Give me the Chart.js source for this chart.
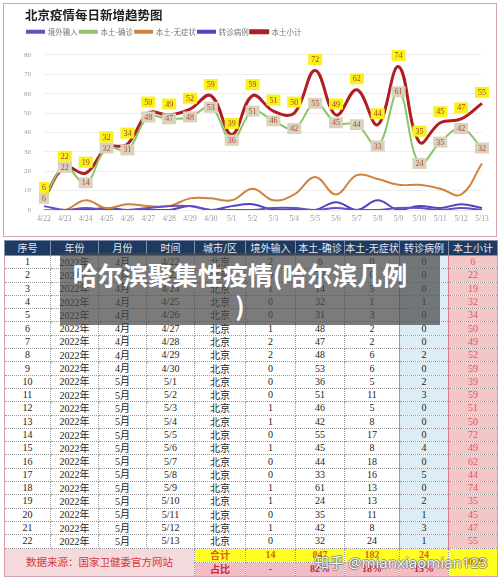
<!DOCTYPE html>
<html>
<head>
<meta charset="utf-8">
<script src="https://cdn.jsdelivr.net/npm/chart.js@4.4.1/dist/chart.umd.min.js"></script>
<style>
body { margin:0; width:500px; height:579px; background:#fff; position:relative; overflow:hidden; font-family:"Noto Sans CJK SC", sans-serif; }
#frame { position:absolute; left:3px; top:3px; border:1.5px solid #d9a3a6; box-sizing:border-box; width:494px; height:234px; }
#wrap { position:absolute; left:3px; top:3px; width:494px; height:232px; }
table { position:absolute; left:4px; top:240px; width:493px; border-collapse:collapse; table-layout:fixed; border:1.5px solid #d9a0a8; }
tr { height:13.3px; }
tr.hd { height:15px; }
tr.sum, tr.pct { height:14px; }
td, th { padding:0; text-align:center; vertical-align:middle; font-family:"Liberation Serif", "Noto Sans CJK SC", serif; font-size:10px; color:#222; border:1px dotted #9a9a9a; line-height:10px; white-space:nowrap; overflow:hidden; }
th { background:#1f3a60; color:#e4e8f2; font-weight:normal; font-family:"Noto Sans CJK SC", sans-serif; font-size:10px; border:1px solid #8090a8; }
.cn { font-family:"Noto Sans CJK SC", sans-serif; line-height:10px; }
.blue { background:#dcedf6; border-left:1px solid #e27a93; border-right:1px solid #e27a93; }
.red { background:#f3c6c8; color:#e05a5a; }
.src { background:#f4dadd; color:#d33a3a; font-family:"Noto Sans CJK SC", sans-serif; font-size:10.5px; }
.sum td { background:#ffff22; color:#e0601a; font-weight:bold; }
.pct td { background:#f3bcc4; color:#c8283c; font-weight:bold; }
#caption { position:absolute; left:60px; top:253px; width:380px; height:72px; padding-right:20px; padding-top:6px; box-sizing:border-box; background:rgba(72,72,72,0.72); color:#fff; font-weight:bold; font-size:25px; line-height:31px; text-align:center; white-space:nowrap; }
#mark { position:absolute; left:314px; top:551px; font-size:15px; color:rgba(255,255,255,0.92); white-space:nowrap; text-shadow:-1px 0 rgba(90,90,90,0.55), 1px 0 rgba(90,90,90,0.55), 0 -1px rgba(90,90,90,0.55), 0 1px rgba(90,90,90,0.55); font-family:"Noto Sans", "Noto Sans CJK SC", sans-serif; }
</style>
</head>
<body>
<div id="frame"></div>
<div id="wrap"><canvas id="myChart" width="494" height="232"></canvas></div>
<table id="tbl"></table>
<div id="caption">哈尔滨聚集性疫情(哈尔滨几例<br>)</div>
<div id="mark">知乎 @mianxiaomian123</div>
<script>
const dates = ['4/22','4/23','4/24','4/25','4/26','4/27','4/28','4/29','4/30','5/1','5/2','5/3','5/4','5/5','5/6','5/7','5/8','5/9','5/10','5/11','5/12','5/13'];
const jingwai = [2,0,1,0,0,1,2,2,0,0,0,1,1,0,1,0,0,1,1,0,1,0];
const quezhen = [6,22,14,32,31,48,47,48,53,36,51,46,42,55,45,44,33,61,24,35,42,32];
const wuzheng = [0,0,5,1,3,2,2,6,6,5,11,5,8,17,8,18,16,13,13,11,8,24];
const zhuanzhen = [0,0,0,1,0,0,0,2,0,2,3,0,0,0,4,0,5,0,2,1,3,1];
const xiaoji = [6,22,19,32,34,50,49,52,59,39,59,51,50,72,49,62,44,74,35,45,47,55];
const yTicks = [0,10,20,30,40,50,60,70,80];
const headers = ['序号','年份','月份','时间','城市/区','境外输入','本土-确诊','本土-无症状','转诊病例','本土小计'];
const colW = [46,48,48,48,51,50,49,55,49,49];

// table
const tbl = document.getElementById('tbl');
let html = '<colgroup>' + colW.map(w => '<col style="width:' + w + 'px">').join('') + '</colgroup>';
html += '<tr class="hd">' + headers.map(h => '<th>' + h + '</th>').join('') + '</tr>';
dates.forEach((d, i) => {
  html += '<tr><td>' + (i + 1) + '</td><td>2022<span class="cn">年</span></td><td>' + d.split('/')[0] + '<span class="cn">月</span></td><td>' + d +
    '</td><td class="cn">北京</td><td>' + jingwai[i] + '</td><td>' + quezhen[i] + '</td><td>' + wuzheng[i] +
    '</td><td class="blue">' + zhuanzhen[i] + '</td><td class="red">' + xiaoji[i] + '</td></tr>';
});
const sum = a => a.reduce((s, v) => s + v, 0);
const total = sum(quezhen) + sum(wuzheng);
html += '<tr class="sum"><td colspan="4" rowspan="2" class="src" style="background:#f4dadd;color:#d33a3a;font-weight:normal">数据来源：国家卫健委官方网站</td><td class="cn">合计</td><td>' + sum(jingwai) + '</td><td>' + sum(quezhen) + '</td><td>' + sum(wuzheng) + '</td><td>' + sum(zhuanzhen) + '</td><td rowspan="2" style="background:#ffff22;color:#e0601a">' + total + '</td></tr>';
html += '<tr class="pct"><td class="cn">占比</td><td>-</td><td>' + Math.round(sum(quezhen) / total * 100) + '%</td><td>' + Math.round(sum(wuzheng) / total * 100) + '%</td><td>' + Math.round(sum(zhuanzhen) / sum(wuzheng) * 100) + '%</td></tr>';
tbl.innerHTML = html;

// labels in boxes
const boxLabels = {
  id: 'boxLabels',
  afterDatasetsDraw(chart) {
    const c = chart.ctx;
    const draw = (idx, fill, color, dy) => {
      const meta = chart.getDatasetMeta(idx);
      meta.data.forEach((pt, i) => {
        const txt = String(chart.data.datasets[idx].data[i]);
        c.font = '8px "Liberation Serif"';
        const w = c.measureText(txt).width + 6;
        const h = 11;
        c.fillStyle = fill;
        c.fillRect(pt.x - w / 2, pt.y + dy - h / 2, w, h);
        c.fillStyle = color;
        c.textAlign = 'center';
        c.textBaseline = 'middle';
        c.fillText(txt, pt.x, pt.y + dy + 0.5);
      });
    };
    c.save();
    draw(1, '#d9d3bd', '#b4483a', 0);
    draw(4, '#f8f21a', '#a8402a', -11);
    c.restore();
  }
};

// y tick labels, placed by the y scale
const yLabels = {
  id: 'yLabels',
  afterDatasetsDraw(chart) {
    const s = chart.scales.y;
    const c = chart.ctx;
    const x = chart.chartArea.left - 13;
    c.save();
    c.font = '7px "Liberation Serif"';
    c.fillStyle = '#999';
    c.textAlign = 'right';
    c.textBaseline = 'middle';
    yTicks.forEach(v => c.fillText(String(v), x, s.getPixelForValue(v)));
    c.restore();
  }
};

const ctx = document.getElementById('myChart');
new Chart(ctx, {
  type: 'line',
  data: {
    labels: dates,
    datasets: [
      { label: '境外输入', data: jingwai, borderColor: '#6c4bc6', backgroundColor: '#6c4bc6', borderWidth: 2 },
      { label: '本土-确诊', data: quezhen, borderColor: '#8cc46c', backgroundColor: '#8cc46c', borderWidth: 2 },
      { label: '本土-无症状', data: wuzheng, borderColor: '#d1823c', backgroundColor: '#d1823c', borderWidth: 2 },
      { label: '转诊病例', data: zhuanzhen, borderColor: '#5640c2', backgroundColor: '#5640c2', borderWidth: 2 },
      { label: '本土小计', data: xiaoji, borderColor: '#b01e24', backgroundColor: '#b01e24', borderWidth: 3 }
    ]
  },
  options: {
    responsive: false,
    animation: false,
    layout: { padding: { left: 22, right: 15, top: 0, bottom: 6 } },
    elements: { point: { radius: 0 }, line: { tension: 0.4 } },
    plugins: {
      tooltip: { enabled: false },
      title: {
        display: true,
        text: '北京疫情每日新增趋势图',
        align: 'start',
        color: '#222',
        font: { size: 12.5, weight: 'bold', family: '"Noto Sans CJK SC"' },
        padding: { top: 5, bottom: 3 }
      },
      legend: {
        align: 'start',
        labels: {
          boxWidth: 17,
          boxHeight: 2,
          padding: 2,
          color: '#777',
          font: { size: 7.5, family: '"Noto Sans CJK SC"' }
        }
      }
    },
    scales: {
      x: {
        grid: { display: false, drawTicks: false },
        border: { display: false },
        ticks: { color: '#999', font: { size: 7.5, family: '"Liberation Serif"' }, maxRotation: 0, autoSkip: false, padding: 5 }
      },
      // empty spacer between legend and plot
      gap: {
        type: 'category',
        position: 'top',
        grid: { display: false, drawTicks: false },
        border: { display: false },
        ticks: { display: false },
        afterFit(scale) { scale.height = 9.4; }
      },
      y: {
        position: 'left',
        min: yTicks[0],
        max: yTicks[yTicks.length - 1],
        afterFit(scale) { scale.width = 19; },
        grid: { color: '#eeeeee', drawTicks: false },
        border: { display: false },
        ticks: { stepSize: yTicks[1] - yTicks[0], display: false }
      }
    }
  },
  plugins: [boxLabels, yLabels]
});
</script>
</body>
</html>
